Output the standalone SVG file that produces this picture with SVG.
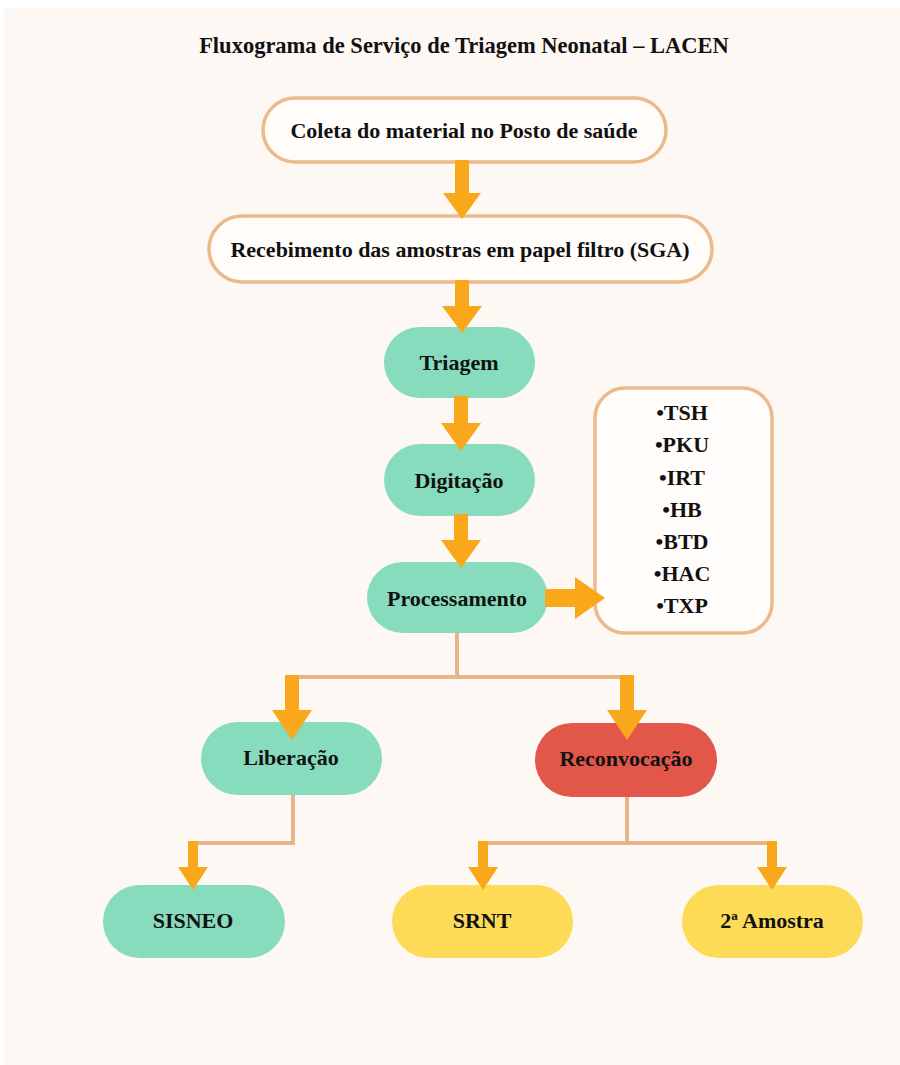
<svg xmlns="http://www.w3.org/2000/svg" width="900" height="1065" viewBox="0 0 900 1065">
<defs>
<style>
.bg{fill:#FDF8F3}
.t{font-family:"Liberation Serif","Times New Roman",serif;font-weight:bold;fill:#111;text-anchor:middle;dominant-baseline:central}
.title{font-size:22.5px}
.lbl{font-size:22px}
.outline{fill:#FFFCF9;stroke:#EBB98C;stroke-width:3.5}
.green{fill:#88DCBE}
.red{fill:#E3574B}
.yellow{fill:#FDDB57}
.line{fill:none;stroke:#E6B68A;stroke-width:4}
.arrow{fill:#F9A81B}
</style>
</defs>
<rect x="0" y="0" width="900" height="1065" fill="#FFFFFF"/>
<rect class="bg" x="4" y="8" width="896" height="1057"/>
<text class="t title" x="464" y="45">Fluxograma de Serviço de Triagem Neonatal – LACEN</text>

<g id="node-coleta">
<rect class="outline" x="263" y="98" width="403" height="64" rx="32"/>
<text class="t lbl" x="464" y="130">Coleta do material no Posto de saúde</text>
</g>
<g id="node-recebimento">
<rect class="outline" x="209" y="216" width="503" height="66" rx="33"/>
<text class="t lbl" x="460" y="249">Recebimento das amostras em papel filtro (SGA)</text>
</g>
<g id="node-triagem">
<rect class="green" x="384" y="327" width="151" height="71" rx="35.5"/>
<text class="t lbl" x="459" y="362">Triagem</text>
</g>
<g id="node-digitacao">
<rect class="green" x="384" y="444" width="151" height="72" rx="36"/>
<text class="t lbl" x="459" y="480">Digitação</text>
</g>
<g id="node-processamento">
<rect class="green" x="367" y="562" width="181" height="71" rx="35.5"/>
<text class="t lbl" x="457" y="598">Processamento</text>
</g>
<g id="node-testes">
<rect class="outline" x="595" y="388" width="177" height="245" rx="30"/>
<text class="t lbl" x="682" y="412">•TSH</text>
<text class="t lbl" x="682" y="444">•PKU</text>
<text class="t lbl" x="682" y="477">•IRT</text>
<text class="t lbl" x="682" y="509">•HB</text>
<text class="t lbl" x="682" y="541">•BTD</text>
<text class="t lbl" x="682" y="573">•HAC</text>
<text class="t lbl" x="682" y="605">•TXP</text>
</g>
<g id="node-liberacao">
<rect class="green" x="201" y="722" width="181" height="73" rx="36.5"/>
<text class="t lbl" x="291" y="757">Liberação</text>
</g>
<g id="node-reconvocacao">
<rect class="red" x="535" y="723" width="182" height="74" rx="37"/>
<text class="t lbl" x="626" y="758">Reconvocação</text>
</g>
<g id="node-sisneo">
<rect class="green" x="103" y="885" width="182" height="73" rx="36.5"/>
<text class="t lbl" x="193" y="920">SISNEO</text>
</g>
<g id="node-srnt">
<rect class="yellow" x="392" y="885" width="181" height="73" rx="36.5"/>
<text class="t lbl" x="482" y="920">SRNT</text>
</g>
<g id="node-amostra2">
<rect class="yellow" x="682" y="885" width="181" height="73" rx="36.5"/>
<text class="t lbl" x="772" y="920">2ª Amostra</text>
</g>

<g id="connectors">
<path class="line" d="M457 633 V677 M291 677 H628"/>
<path class="line" d="M293 795 V843 H193"/>
<path class="line" d="M627 797 V843 M483 843 H773"/>
<path class="arrow" d="M455 160 H469 V193 H481 L462 219 L443 193 H455 Z"/>
<path class="arrow" d="M455 280 H469 V306 H482 L462 333 L442 306 H455 Z"/>
<path class="arrow" d="M454 396 H468 V423 H481 L461 451 L441 423 H454 Z"/>
<path class="arrow" d="M454 514 H468 V540 H481 L461 568 L441 540 H454 Z"/>
<path class="arrow" d="M545 589 H575 V577 L605 598 L575 619 V607 H545 Z"/>
<path class="arrow" d="M285 675 H299 V710 H312 L292 740 L272 710 H285 Z"/>
<path class="arrow" d="M620 675 H634 V710 H647 L627 740 L607 710 H620 Z"/>
<path class="arrow" d="M188 841 H198 V867 H208 L193 890 L178 867 H188 Z"/>
<path class="arrow" d="M478 841 H488 V867 H498 L483 890 L468 867 H478 Z"/>
<path class="arrow" d="M767 841 H777 V867 H787 L772 890 L757 867 H767 Z"/>
</g>
</svg>
